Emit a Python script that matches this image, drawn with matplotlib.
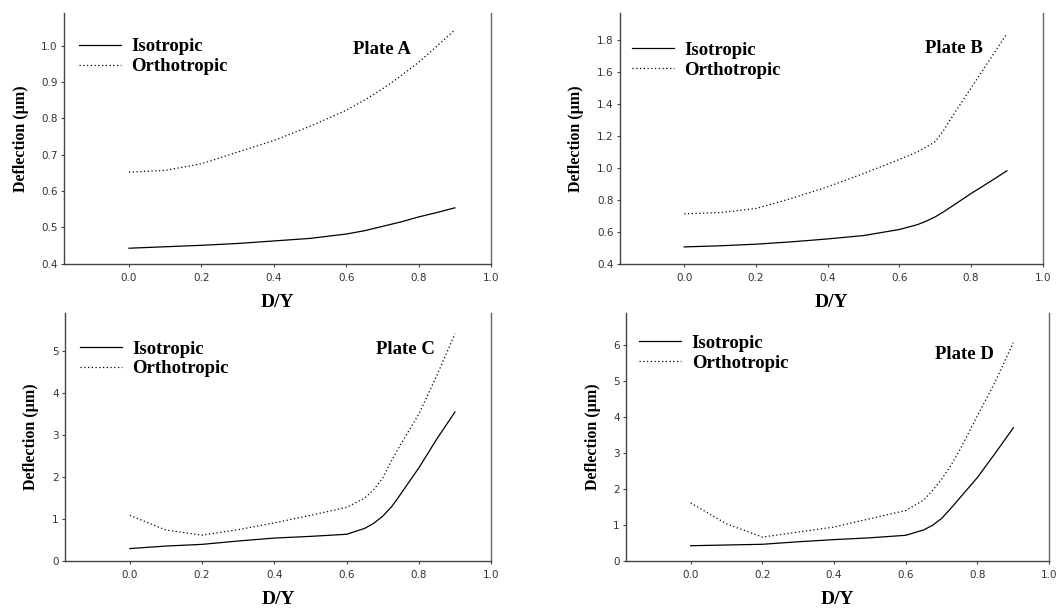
import matplotlib.pyplot as plt

# D/Y positions
dy = [0.0, 0.1, 0.2, 0.3, 0.4, 0.5, 0.6, 0.65, 0.675, 0.7, 0.725, 0.75, 0.8, 0.85, 0.9]

iso_a = [0.443, 0.447, 0.451, 0.456, 0.463, 0.470, 0.482, 0.491, 0.497, 0.503, 0.509, 0.515, 0.529, 0.541, 0.554]
orth_a = [0.652, 0.657, 0.675, 0.707, 0.739, 0.778, 0.822, 0.850, 0.865, 0.881, 0.898, 0.916, 0.954, 0.998, 1.043]

iso_b = [0.506, 0.513, 0.523, 0.538, 0.556, 0.577, 0.615, 0.645, 0.667, 0.694, 0.728, 0.765, 0.840, 0.910, 0.982]
orth_b = [0.713, 0.721, 0.746, 0.810, 0.882, 0.965, 1.053, 1.100, 1.130, 1.165, 1.240, 1.330, 1.500, 1.670, 1.840]

iso_c = [0.30, 0.36, 0.40, 0.48, 0.55, 0.59, 0.64, 0.78, 0.90, 1.07, 1.30, 1.60, 2.22, 2.91, 3.55]
orth_c = [1.09, 0.74, 0.62, 0.75, 0.91, 1.09, 1.28, 1.50, 1.70, 1.98, 2.40, 2.78, 3.50, 4.42, 5.41]

iso_d = [0.43, 0.45, 0.47, 0.54, 0.60, 0.65, 0.72, 0.87, 1.00, 1.19, 1.46, 1.75, 2.33, 3.01, 3.71]
orth_d = [1.62, 1.04, 0.67, 0.81, 0.95, 1.18, 1.41, 1.70, 1.97, 2.28, 2.65, 3.08, 4.05, 5.00, 6.08]

plates = ["Plate A", "Plate B", "Plate C", "Plate D"]
xticks = [0.0, 0.2, 0.4, 0.6, 0.8, 1.0]

panels = [
    # iso, orth, axes rect, ylim, yticks, legend pos, plate label pos, tick format
    (iso_a, orth_a, [0.060, 0.566, 0.402, 0.413], (0.4, 1.09),
     [0.4, 0.5, 0.6, 0.7, 0.8, 0.9, 1.0], (0.035, 0.899), (0.745, 0.853), "%.1f"),
    (iso_b, orth_b, [0.583, 0.566, 0.398, 0.413], (0.4, 1.97),
     [0.4, 0.6, 0.8, 1.0, 1.2, 1.4, 1.6, 1.8], (0.028, 0.884), (0.79, 0.857), "%.1f"),
    (iso_c, orth_c, [0.061, 0.077, 0.401, 0.408], (0, 5.9),
     [0, 1, 2, 3, 4, 5], (0.035, 0.89), (0.80, 0.855), "%d"),
    (iso_d, orth_d, [0.589, 0.077, 0.398, 0.408], (0, 6.9),
     [0, 1, 2, 3, 4, 5, 6], (0.031, 0.914), (0.80, 0.833), "%d"),
]

serif = "Liberation Serif"
sans = "DejaVu Sans"
axis_col = "#444444"

fig = plt.figure(figsize=(10.63, 6.08), dpi=100)

for (iso, orth, rect, ylim, yticks, leg_pos, lab_pos, fmt), plate in zip(panels, plates):
    ax = fig.add_axes(rect)
    ax.plot(dy, iso, color="black", linewidth=0.9, label="Isotropic")
    ax.plot(dy, orth, color="black", linewidth=0.9, linestyle=(0, (1, 2)), label="Orthotropic")
    ax.set_xlim(-0.18, 1.0)
    ax.set_ylim(*ylim)
    ax.set_xticks(xticks)
    ax.set_xticklabels(["%.1f" % t for t in xticks])
    ax.set_yticks(yticks)
    ax.set_yticklabels([fmt % t for t in yticks])
    ax.spines["top"].set_visible(False)
    for s in ["left", "bottom"]:
        ax.spines[s].set_linewidth(1.0)
        ax.spines[s].set_color(axis_col)
    ax.spines["right"].set_linewidth(1.0)
    ax.spines["right"].set_color("#666666")
    ax.tick_params(axis="both", direction="out", length=2.5, width=0.8,
                   labelsize=7.5, color=axis_col, labelcolor="#333333")
    ax.tick_params(axis="x", pad=4)
    ax.tick_params(axis="y", pad=2, right=False)
    for lbl in ax.get_xticklabels() + ax.get_yticklabels():
        lbl.set_fontfamily(sans)
    ax.set_xlabel("D/Y", fontfamily=serif, fontweight="bold", fontsize=14, labelpad=8)
    ax.set_ylabel("Deflection (µm)", fontfamily=serif, fontweight="bold", fontsize=11.5, labelpad=9)
    ax.legend(loc="upper left", bbox_to_anchor=leg_pos, frameon=False,
              prop={"family": serif, "weight": "bold", "size": 13.5},
              handlelength=2.25, handletextpad=0.55, labelspacing=0.15,
              borderpad=0, borderaxespad=0)
    ax.text(lab_pos[0], lab_pos[1], plate, transform=ax.transAxes, ha="center", va="center",
            fontfamily=serif, fontweight="bold", fontsize=13.5)

plt.savefig("out.png", dpi=100)
